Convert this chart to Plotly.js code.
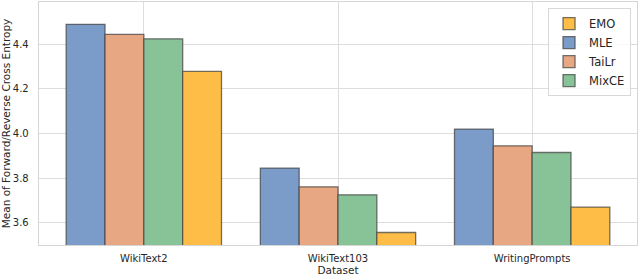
<!DOCTYPE html>
<html><head><meta charset="utf-8">
<script src="https://cdn.plot.ly/plotly-3.0.1.min.js"></script>
<style>body{margin:0;padding:0;background:#fff}#c{width:640px;height:276px}</style>
</head><body><div id="c"></div>
<script>
const categories = ["WikiText2", "WikiText103", "WritingPrompts"];
const methods = ["MLE", "TaiLr", "MixCE", "EMO"];
const mleVals = [4.49, 3.845, 4.02];
const tailrVals = [4.445, 3.761, 3.945];
const mixceVals = [4.425, 3.725, 3.915];
const emoVals = [4.279, 3.556, 3.670];
const yTicks = [3.6, 3.8, 4.0, 4.2, 4.4];

const series = [mleVals, tailrVals, mixceVals, emoVals];
const colors = ["#7b9bc8", "#e7a783", "#88c398", "#fdbd46"];
const ranks = [2, 3, 4, 1];
const traces = methods.map((m, i) => ({
  type: "bar", name: m, x: categories, y: series[i],
  marker: {color: colors[i], line: {color: "rgba(70,70,70,0.75)", width: 1.3}},
  legendrank: ranks[i]
}));
const layout = {
  width: 640, height: 276,
  margin: {l: 39, r: 3, t: 2, b: 31},
  paper_bgcolor: "#fff", plot_bgcolor: "#fff",
  font: {family: "DejaVu Sans", size: 10, color: "#262626"},
  barmode: "group", bargap: 0.2, bargroupgap: 0,
  showlegend: true,
  legend: {x: 0.99, xanchor: "right", y: 0.975, yanchor: "top",
    bgcolor: "rgba(255,255,255,0.85)", bordercolor: "#d8d8d8", borderwidth: 1,
    font: {size: 11.5}, tracegroupgap: 0},
  xaxis: {range: [-0.54, 2.54], showgrid: true, gridcolor: "#dddddd", gridwidth: 1,
    tickmode: "array", tickvals: categories, ticks: "", ticklen: 0, ticklabelstandoff: 4,
    showline: true, mirror: true, linecolor: "#d6d6d6", linewidth: 1.3, zeroline: false,
    title: {text: "Dataset", font: {size: 10.5}, standoff: 2}},
  yaxis: {range: [3.5, 4.59], tickmode: "array", tickvals: yTicks,
    ticktext: yTicks.map(v => v.toFixed(1)),
    showgrid: true, gridcolor: "#dddddd", gridwidth: 1, zeroline: false,
    showline: true, mirror: true, linecolor: "#d6d6d6", linewidth: 1.3,
    ticks: "", ticklen: 0, ticklabelstandoff: 7,
    title: {text: "Mean of Forward/Reverse Cross Entropy", font: {size: 10.5}, standoff: 4}}
};
Plotly.newPlot("c", traces, layout, {displayModeBar: false, staticPlot: true});
</script></body></html>
